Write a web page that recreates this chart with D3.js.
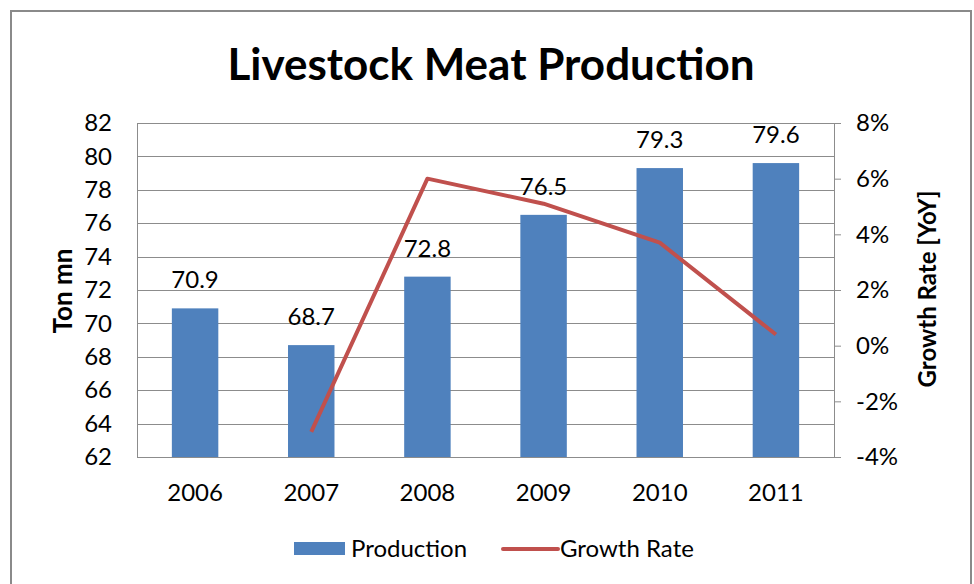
<!DOCTYPE html>
<html><head><meta charset="utf-8">
<script src="https://cdn.jsdelivr.net/npm/d3@7"></script>
<style>
html,body{margin:0;padding:0;background:#fff;}
text{font-family:Lato,"Open Sans",sans-serif;}
</style></head>
<body>
<svg id="chart" width="974" height="584"></svg>
<script>
const categories = ["2006","2007","2008","2009","2010","2011"];
const production = [70.9, 68.7, 72.8, 76.5, 79.3, 79.6];
const growthYears = ["2007","2008","2009","2010","2011"];
const growthRate = [-3.1, 6.0, 5.1, 3.7, 0.4];
const leftTicks = [62,64,66,68,70,72,74,76,78,80,82];
const rightTicks = [-4,-2,0,2,4,6,8];

const svg = d3.select("#chart");
const m = {left:137, right:834, top:123, bottom:457};
const FS = 24;

// outer border
svg.append("rect").attr("x",11).attr("y",11).attr("width",960).attr("height",600)
  .attr("fill","#fff").attr("stroke","#8a8a8a").attr("stroke-width",2);

const x = d3.scaleBand().domain(categories).range([m.left,m.right]).paddingInner(0.6).paddingOuter(0.3);
const xc = d3.scaleBand().domain(categories).range([m.left,m.right]);
const y = d3.scaleLinear().domain([62,82]).range([m.bottom,m.top]);
const y2 = d3.scaleLinear().domain([-4,8]).range([m.bottom,m.top]);

// gridlines
svg.append("g").selectAll("line").data(leftTicks).join("line")
  .attr("x1",m.left).attr("x2",m.right)
  .attr("y1",d=>Math.round(y(d))+0.5).attr("y2",d=>Math.round(y(d))+0.5)
  .attr("stroke","#8c8c8c").attr("stroke-width",1);

// left axis
const gl = svg.append("g").attr("transform",`translate(${m.left},0)`)
  .call(d3.axisLeft(y).tickValues(leftTicks).tickSize(0).tickPadding(25).tickFormat(d3.format("d")));
gl.select(".domain").attr("stroke","#8c8c8c");
gl.selectAll("text").attr("font-size",FS).attr("fill","#000").style("font-family","Lato");

// right axis
const gr = svg.append("g").attr("transform",`translate(${m.right},0)`)
  .call(d3.axisRight(y2).tickValues(rightTicks).tickSizeOuter(0).tickSizeInner(7).tickPadding(15).tickFormat(d=>d+"%"));
gr.select(".domain").attr("stroke","#8c8c8c");
gr.selectAll("line").attr("stroke","#8c8c8c");
gr.selectAll("text").attr("font-size",FS).attr("fill","#000").style("font-family","Lato");

// bottom axis
const gb = svg.append("g").attr("transform",`translate(0,${m.bottom})`)
  .call(d3.axisBottom(xc).tickSize(0).tickPadding(27));
gb.select(".domain").attr("stroke","#8c8c8c");
gb.selectAll("text").attr("font-size",FS).attr("fill","#000").style("font-family","Lato");

// bars
svg.append("g").selectAll("rect").data(production).join("rect")
  .attr("x",(d,i)=>x(categories[i])).attr("width",x.bandwidth())
  .attr("y",d=>y(d)).attr("height",d=>m.bottom-y(d))
  .attr("fill","#4f81bd");

// data labels
svg.append("g").selectAll("text").data(production).join("text")
  .attr("x",(d,i)=>xc(categories[i])+xc.bandwidth()/2)
  .attr("y",d=>y(d)-20)
  .attr("text-anchor","middle").attr("font-size",FS).attr("fill","#000")
  .text(d=>d.toFixed(1));

// growth line
const line = d3.line().x((d,i)=>xc(growthYears[i])+xc.bandwidth()/2).y(d=>y2(d));
svg.append("path").datum(growthRate).attr("d",line)
  .attr("fill","none").attr("stroke","#c0504d").attr("stroke-width",4).attr("stroke-linejoin","round");

// title
svg.append("text").attr("x",491).attr("y",80).attr("text-anchor","middle")
  .attr("font-size",44).attr("font-weight","bold").attr("fill","#000")
  .text("Livestock Meat Production");

// axis titles
svg.append("text").attr("transform",`translate(72,291) rotate(-90)`).attr("text-anchor","middle")
  .attr("font-size",26).attr("font-weight","bold").attr("fill","#000").text("Ton mn");
svg.append("text").attr("transform",`translate(936,289) rotate(-90)`).attr("text-anchor","middle")
  .attr("font-size",24).attr("font-weight","bold").attr("fill","#000").text("Growth Rate [YoY]");

// legend
const lg = svg.append("g");
lg.append("rect").attr("x",294).attr("y",542).attr("width",51).attr("height",13).attr("fill","#4f81bd");
lg.append("text").attr("x",351).attr("y",557).attr("font-size",FS).attr("fill","#000").text("Production");
lg.append("line").attr("x1",503).attr("x2",558).attr("y1",549).attr("y2",549)
  .attr("stroke","#c0504d").attr("stroke-width",4).attr("stroke-linecap","round");
lg.append("text").attr("x",560).attr("y",557).attr("font-size",FS).attr("fill","#000").text("Growth Rate");
</script>
</body></html>
